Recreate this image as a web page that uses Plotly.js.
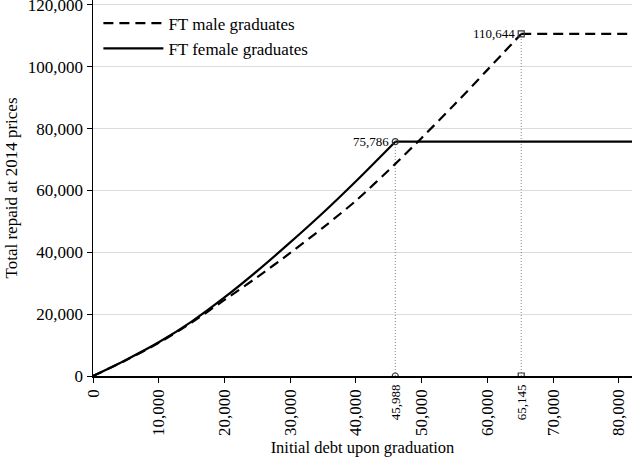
<!DOCTYPE html>
<html>
<head>
<meta charset="utf-8">
<script src="https://cdn.plot.ly/plotly-3.0.1.min.js"></script>
<style>html,body{margin:0;padding:0;background:#fff;}#chart{width:637px;height:459px;}</style>
</head>
<body>
<div id="chart"></div>
<script>
// Data
var debtMale = [0, 5000, 10000, 15000, 20000, 25000, 30000, 35000, 40000, 45988, 50000, 55000, 60000, 65145, 82000];
var repaidMale = [0, 5100, 10700, 17300, 24600, 32000, 39800, 48000, 56700, 68600, 77000, 87800, 99000, 110644, 110644];
var debtFemale = [0, 5000, 10000, 15000, 20000, 25000, 30000, 35000, 40000, 45988, 82000];
var repaidFemale = [0, 5200, 10900, 17600, 25400, 34000, 43200, 52800, 63000, 75786, 75786];
var femaleCap = {debt: 45988, repaid: 75786, debtLabel: "45,988", repaidLabel: "75,786"};
var maleCap = {debt: 65145, repaid: 110644, debtLabel: "65,145", repaidLabel: "110,644"};
var xTicks = [0, 10000, 20000, 30000, 40000, 50000, 60000, 70000, 80000];
var xTickText = ["0", "10,000", "20,000", "30,000", "40,000", "50,000", "60,000", "70,000", "80,000"];
var yTicks = [0, 20000, 40000, 60000, 80000, 100000, 120000];
var yTickText = ["0", "20,000", "40,000", "60,000", "80,000", "100,000", "120,000"];

var serif = "Liberation Serif, Times New Roman, serif";

// split each series into the rising (smooth) part and the flat cap part
function split(xs, ys) {
  var n = xs.length;
  return {cx: xs.slice(0, n - 1), cy: ys.slice(0, n - 1), fx: xs.slice(n - 2), fy: ys.slice(n - 2)};
}
var m = split(debtMale, repaidMale);
var f = split(debtFemale, repaidFemale);

var maleLine = {color: "#000", width: 2.2, dash: "10px,6px"};
var femaleLine = {color: "#000", width: 2.2};

var traces = [
  {x: [femaleCap.debt, femaleCap.debt], y: [0, femaleCap.repaid], mode: "lines",
   line: {color: "#888", width: 1, dash: "1px,2px"}, showlegend: false, hoverinfo: "skip"},
  {x: [maleCap.debt, maleCap.debt], y: [0, maleCap.repaid], mode: "lines",
   line: {color: "#888", width: 1, dash: "1px,2px"}, showlegend: false, hoverinfo: "skip"},
  {x: m.cx, y: m.cy, mode: "lines", name: "FT male graduates", legendgroup: "m",
   line: Object.assign({shape: "spline", smoothing: 0.8}, maleLine)},
  {x: m.fx, y: m.fy, mode: "lines", legendgroup: "m", showlegend: false, line: maleLine},
  {x: f.cx, y: f.cy, mode: "lines", name: "FT female graduates", legendgroup: "f",
   line: Object.assign({shape: "spline", smoothing: 0.8}, femaleLine)},
  {x: f.fx, y: f.fy, mode: "lines", legendgroup: "f", showlegend: false, line: femaleLine},
  {x: [femaleCap.debt, femaleCap.debt], y: [0, femaleCap.repaid], mode: "markers",
   marker: {symbol: "circle-open", size: 6, color: "#333", line: {width: 1.2}}, showlegend: false},
  {x: [maleCap.debt, maleCap.debt], y: [0, maleCap.repaid], mode: "markers",
   marker: {symbol: "square-open", size: 6, color: "#333", line: {width: 1.2}}, showlegend: false}
];

var layout = {
  width: 637, height: 459,
  margin: {l: 93, r: 5, t: 0, b: 83},
  paper_bgcolor: "#fff", plot_bgcolor: "#fff",
  font: {family: serif, color: "#000", size: 17},
  showlegend: true,
  legend: {x: 0.01, y: 0.985, xanchor: "left", yanchor: "top", bgcolor: "rgba(0,0,0,0)",
           font: {family: serif, size: 17, color: "#000"}, itemwidth: 60, tracegroupgap: 0},
  xaxis: {range: [0, 82000], tickvals: xTicks, ticktext: xTickText, tickangle: -90,
          ticks: "outside", ticklen: 5, tickcolor: "#000", showgrid: false, zeroline: false,
          showline: true, linecolor: "#000", linewidth: 1.5, automargin: false,
          tickfont: {family: serif, size: 17, color: "#000"},
          title: {text: "Initial debt upon graduation", font: {family: serif, size: 16.5, color: "#000"}, standoff: 6}},
  yaxis: {range: [0, 121600], tickvals: yTicks, ticktext: yTickText, ticklabeloverflow: "allow",
          ticks: "outside", ticklen: 5, tickcolor: "#000", showgrid: true, gridcolor: "#dcdcdc", gridwidth: 1,
          zeroline: false, showline: true, linecolor: "#000", linewidth: 1.5, automargin: false,
          tickfont: {family: serif, size: 17, color: "#000"},
          title: {text: "Total repaid at 2014 prices", font: {family: serif, size: 17, color: "#000"}, standoff: 6}},
  annotations: [
    {x: femaleCap.debt, y: femaleCap.repaid, xref: "x", yref: "y", text: femaleCap.repaidLabel,
     showarrow: false, xanchor: "right", yanchor: "middle", xshift: -4, font: {family: serif, size: 13, color: "#000"}},
    {x: maleCap.debt, y: maleCap.repaid, xref: "x", yref: "y", text: maleCap.repaidLabel,
     showarrow: false, xanchor: "right", yanchor: "middle", xshift: -4, font: {family: serif, size: 13, color: "#000"}},
    {x: femaleCap.debt, y: 0, xref: "x", yref: "paper", text: femaleCap.debtLabel, textangle: -90,
     showarrow: false, xanchor: "center", yanchor: "top", yshift: -6, font: {family: serif, size: 13, color: "#000"}},
    {x: maleCap.debt, y: 0, xref: "x", yref: "paper", text: maleCap.debtLabel, textangle: -90,
     showarrow: false, xanchor: "center", yanchor: "top", yshift: -6, font: {family: serif, size: 13, color: "#000"}}
  ]
};

Plotly.newPlot("chart", traces, layout, {displayModeBar: false, staticPlot: true});
</script>
</body>
</html>
